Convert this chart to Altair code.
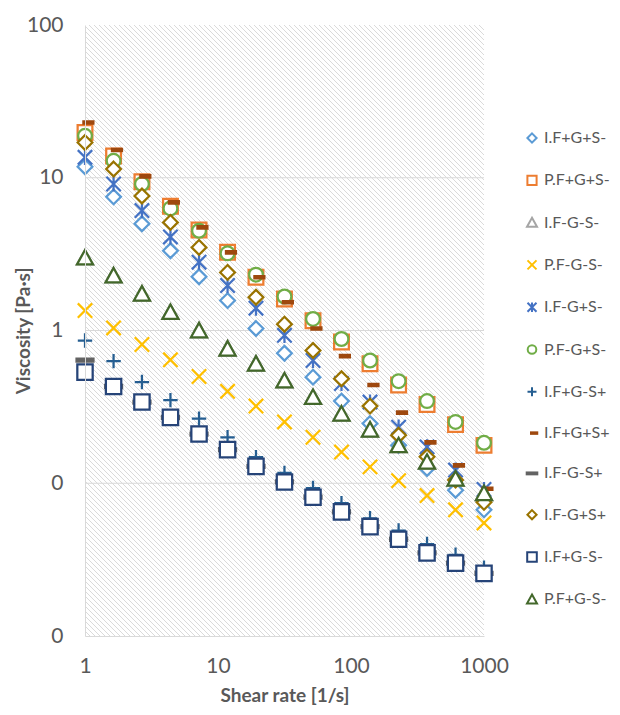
import math
import altair as alt
import pandas as pd

# ---------------- data ----------------
shear_rate = [1, 1.64, 2.68, 4.39, 7.2, 11.8, 19.3, 31.6, 51.8, 84.8, 139, 228, 373, 611, 1000]

series_names = ["I.F+G+S-", "P.F+G+S-", "I.F-G-S-", "P.F-G-S-", "I.F-G+S-", "P.F-G+S-",
                "I.F+G-S+", "I.F+G+S+", "I.F-G-S+", "I.F-G+S+", "I.F+G-S-", "P.F+G-S-"]

IFpGpSm = [11.8, 7.5, 5.0, 3.33, 2.25, 1.57, 1.03, 0.71, 0.495, 0.345, 0.246, 0.177, 0.125, 0.09, 0.067]
PFpGpSm = [19.8, 13.9, 9.4, 6.5, 4.55, 3.25, 2.23, 1.61, 1.16, 0.84, 0.606, 0.44, 0.328, 0.242, 0.177]
IFmGmSm = [3.0, 2.29, 1.74, 1.32, 1.0, 0.76, 0.606, 0.47, 0.366, 0.285, 0.224, 0.177, 0.138, 0.107, 0.086]
PFmGmSm = [1.35, 1.04, 0.81, 0.643, 0.5, 0.40, 0.32, 0.252, 0.2, 0.16, 0.128, 0.104, 0.083, 0.067, 0.055]
IFmGpSm = [13.6, 9.1, 6.1, 4.1, 2.8, 1.97, 1.4, 0.93, 0.636, 0.45, 0.34, 0.233, 0.173, 0.122, 0.091]
PFmGpSm = [18.8, 12.9, 9.1, 6.3, 4.5, 3.2, 2.32, 1.67, 1.19, 0.88, 0.636, 0.466, 0.345, 0.252, 0.184]
IFpGmSp = [0.86, 0.63, 0.46, 0.35, 0.265, 0.20, 0.148, 0.117, 0.093, 0.074, 0.059, 0.049, 0.040, 0.034, 0.028]
IFpGpSp = [23, 15.2, 10.2, 6.9, 4.73, 3.25, 2.23, 1.53, 1.03, 0.68, 0.44, 0.29, 0.185, 0.131, 0.092]
IFmGmSp = [0.64, 0.43, 0.34, 0.27, 0.21, 0.166, 0.129, 0.102, 0.081, 0.065, 0.052, 0.043, 0.035, 0.030, 0.0257]
IFmGpSp = [17, 11.4, 7.6, 5.1, 3.5, 2.4, 1.65, 1.1, 0.74, 0.483, 0.32, 0.206, 0.149, 0.105, 0.075]
IFpGmSm = [0.534, 0.43, 0.34, 0.27, 0.21, 0.166, 0.129, 0.102, 0.081, 0.065, 0.052, 0.043, 0.035, 0.030, 0.0257]
PFpGmSm = [3.0, 2.29, 1.74, 1.32, 1.0, 0.76, 0.606, 0.47, 0.366, 0.285, 0.224, 0.177, 0.138, 0.107, 0.086]

series_values = [IFpGpSm, PFpGpSm, IFmGmSm, PFmGmSm, IFmGpSm, PFmGpSm,
                 IFpGmSp, IFpGpSp, IFmGmSp, IFmGpSp, IFpGmSm, PFpGmSm]

y_tick_values = [0.01, 0.1, 1, 10, 100]
y_tick_labels = ["0", "0", "1", "10", "100"]
x_tick_values = [1, 10, 100, 1000]
x_tick_labels = ["1", "10", "100", "1000"]
y_grid_values = [0.1, 1, 10]

# ---------------- styles ----------------
stroke_colors = ["#5B9BD5", "#ED7D31", "#A5A5A5", "#FFC000", "#4472C4", "#70AD47",
                 "#255E91", "#9E480E", "#636363", "#997300", "#264478", "#43682B"]
fill_colors = ["white", "white", "white", "white", "white", "white",
               "white", "#9E480E", "#636363", "white", "white", "white"]
DIAMOND = "M0,-0.92L0.92,0L0,0.92L-0.92,0Z"
SQUARE = "M-0.92,-0.92H0.92V0.92H-0.92Z"
SQUARE_L = "M-0.96,-0.96H0.96V0.96H-0.96Z"
TRIANGLE = "M0,-0.95L1,0.85L-1,0.85Z"
XMARK = "M-0.9,-0.9L0.9,0.9M-0.9,0.9L0.9,-0.9"
STAR = "M-0.9,-0.9L0.9,0.9M-0.9,0.9L0.9,-0.9M0,-0.95L0,0.95"
CIRCLE = "M0.86,0A0.86,0.86 0 1,1 -0.86,0A0.86,0.86 0 1,1 0.86,0Z"
PLUS = "M-0.9,0H0.9M0,-0.9V0.9"
SHORT_DASH = "M-0.2,-0.15H1.05V0.15H-0.2Z"
LONG_DASH = "M-1.06,-0.19H1.06V0.19H-1.06Z"
shapes = [DIAMOND, SQUARE, TRIANGLE, XMARK, STAR, CIRCLE, PLUS, SHORT_DASH, LONG_DASH,
          DIAMOND, SQUARE_L, TRIANGLE]

rows = []
for name, vals in zip(series_names, series_values):
    for xv, yv in zip(shear_rate, vals):
        rows.append({"series": name, "shear": xv, "visc": yv})
df = pd.DataFrame(rows)

FONT = "Lato"
TXT = "#595959"
W, H = 399, 611

# hatch pattern of the plot area: one symbol path of "\" diagonal lines (5 px apart),
# drawn at 1 unit = 1 px (size 4) at the centre of the plot, clipped to the plot
hatch_path = ""
for c in range(-W, H + 1, 5):
    hatch_path += f"M{-W / 2 - 2:.1f},{-H / 2 + c - 2:.1f}L{W / 2 + 2:.1f},{-H / 2 + c + W + 2:.1f}"

xscale = alt.Scale(type="log", domain=[1, 1000])
yscale = alt.Scale(type="log", domain=[0.01, 100])

y_expr = ""
for v, t in zip(y_tick_values, y_tick_labels):
    y_expr += f"abs(log(datum.value)/LN10 - ({math.log10(v)})) < 0.01 ? '{t}' : "
y_expr += "''"
x_expr = ""
for v, t in zip(x_tick_values, x_tick_labels):
    x_expr += f"abs(log(datum.value)/LN10 - ({math.log10(v)})) < 0.01 ? '{t}' : "
x_expr += "''"

common_axis = dict(grid=False, ticks=False, domainColor="#D9D9D9", domainWidth=1,
                   labelFont=FONT, labelFontSize=21, labelColor=TXT, labelFlush=False,
                   labelOverlap=False,
                   titleFont=FONT, titleFontSize=19, titleFontWeight="bold", titleColor=TXT,
                   titleAlign="center", titleBaseline="middle", zindex=1)
x_axis = alt.Axis(values=x_tick_values, labelExpr=x_expr, labelPadding=19,
                  titleX=W / 2, titleY=59, **common_axis)
y_axis = alt.Axis(values=y_tick_values, labelExpr=y_expr, labelPadding=22,
                  titleX=-62, titleY=H / 2, titleAngle=270, **common_axis)

hatch = alt.Chart(alt.Data(values=[{"a": 1}])).mark_point(
    shape=hatch_path, size=4, stroke="#DADADA", strokeWidth=1, fill=None, filled=False,
    opacity=1, clip=True
).encode(x=alt.value(W / 2), y=alt.value(H / 2))

grid = alt.Chart(pd.DataFrame({"g": y_grid_values})).mark_rule(color="#D9D9D9", strokeWidth=1).encode(
    y=alt.Y("g:Q", scale=yscale, axis=y_axis, title="Viscosity [Pa·s]")
)

legend = alt.Legend(title=None, orient="none", legendX=439, legendY=105, padding=0,
                    symbolSize=100, symbolStrokeWidth=2, labelOffset=4,
                    labelFont=FONT, labelFontSize=16, labelColor=TXT, rowPadding=24.3,
                    labelLimit=200)

points = alt.Chart(df).mark_point(filled=True, opacity=1, size=256, strokeWidth=2.25).encode(
    x=alt.X("shear:Q", scale=xscale, axis=x_axis, title="Shear rate [1/s]"),
    y=alt.Y("visc:Q", scale=yscale, axis=y_axis, title="Viscosity [Pa·s]"),
    shape=alt.Shape("series:N", scale=alt.Scale(domain=series_names, range=shapes), legend=legend),
    stroke=alt.Stroke("series:N", scale=alt.Scale(domain=series_names, range=stroke_colors), legend=legend),
    fill=alt.Fill("series:N", scale=alt.Scale(domain=series_names, range=fill_colors), legend=legend),
)

chart = alt.layer(hatch, grid, points).properties(
    width=W, height=H,
    autosize=alt.AutoSizeParams(type="none"),
    padding={"left": 77, "top": 17, "right": 128, "bottom": 70},
).configure_view(stroke=None)

chart.save("out.html", embed_options={"renderer": "svg", "actions": False})
